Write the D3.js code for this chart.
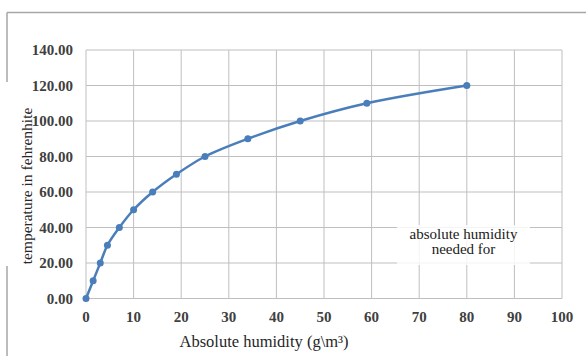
<!DOCTYPE html>
<html>
<head>
<meta charset="utf-8">
<script src="https://cdn.jsdelivr.net/npm/d3@7"></script>
<style>
  html, body { margin: 0; padding: 0; background: #fff; }
  svg { display: block; }
</style>
</head>
<body>
<div id="chart"></div>
<script>
// humidity (g/m3) needed for each temperature
const humidity = [0, 1.5, 3, 4.5, 7, 10, 14, 19, 25, 34, 45, 59, 80];
const temperature = [0, 10, 20, 30, 40, 50, 60, 70, 80, 90, 100, 110, 120];
const xTicks = [0, 10, 20, 30, 40, 50, 60, 70, 80, 90, 100];
const yTicks = [0, 20, 40, 60, 80, 100, 120, 140];
const noteLines = ['absolute humidity', 'needed for'];

const width = 586, height = 356;
const margin = { top: 50, right: 24, bottom: 57.5, left: 86 };
const serif = '"Liberation Serif", "DejaVu Serif", serif';

const svg = d3.select('#chart')
  .append('svg')
  .attr('width', width)
  .attr('height', height);

// outer frame (partially visible in the source)
const frame = svg.append('g')
  .attr('stroke', '#a6a6a6')
  .attr('stroke-width', 1.5)
  .attr('fill', 'none');
frame.append('line').attr('x1', 7).attr('x2', width).attr('y1', 12.5).attr('y2', 12.5);
frame.append('line').attr('x1', 7).attr('x2', 7).attr('y1', 12.5).attr('y2', 82);
frame.append('line').attr('x1', 7).attr('x2', 7).attr('y1', 266).attr('y2', height);

const x = d3.scaleLinear()
  .domain([0, 100])
  .range([margin.left, width - margin.right]);

const y = d3.scaleLinear()
  .domain([0, 140])
  .range([height - margin.bottom, margin.top]);

// grid
const grid = svg.append('g')
  .attr('stroke', '#bfbfbf')
  .attr('stroke-width', 1);

grid.selectAll('.vx')
  .data(xTicks)
  .enter()
  .append('line')
  .attr('x1', d => x(d))
  .attr('x2', d => x(d))
  .attr('y1', y(0))
  .attr('y2', y(140));

grid.selectAll('.hy')
  .data(yTicks)
  .enter()
  .append('line')
  .attr('x1', x(0))
  .attr('x2', x(100))
  .attr('y1', d => y(d))
  .attr('y2', d => y(d));

// tick labels
svg.append('g')
  .selectAll('text')
  .data(yTicks)
  .enter()
  .append('text')
  .attr('x', x(0) - 13)
  .attr('y', d => y(d))
  .attr('dy', '0.35em')
  .attr('text-anchor', 'end')
  .style('font-family', serif)
  .style('font-size', '15px')
  .style('font-weight', 'bold')
  .style('fill', '#404040')
  .text(d => d3.format('.2f')(d));

svg.append('g')
  .selectAll('text')
  .data(xTicks)
  .enter()
  .append('text')
  .attr('x', d => x(d))
  .attr('y', y(0) + 23)
  .attr('text-anchor', 'middle')
  .style('font-family', serif)
  .style('font-size', '15px')
  .style('font-weight', 'bold')
  .style('fill', '#404040')
  .text(d => d);

// axis titles
svg.append('text')
  .attr('x', 264)
  .attr('y', 347)
  .attr('text-anchor', 'middle')
  .style('font-family', serif)
  .style('font-size', '16.5px')
  .style('fill', '#262626')
  .text('Absolute humidity (g\\m³)');

svg.append('text')
  .attr('transform', 'translate(32,186) rotate(-90)')
  .attr('text-anchor', 'middle')
  .style('font-family', serif)
  .style('font-size', '15.5px')
  .style('fill', '#262626')
  .text('temperature in fehrenhite');

// note box
const note = svg.append('g');
note.append('rect')
  .attr('x', 397)
  .attr('y', 225)
  .attr('width', 133)
  .attr('height', 40)
  .attr('fill', '#fff')
  .attr('fill-opacity', 0.82);
note.selectAll('text')
  .data(noteLines)
  .enter()
  .append('text')
  .attr('x', 463.5)
  .attr('y', (d, i) => 239 + i * 15)
  .attr('text-anchor', 'middle')
  .style('font-family', serif)
  .style('font-size', '15px')
  .style('fill', '#1a1a1a')
  .text(d => d);

// series
const pts = humidity.map((h, i) => ({ h, t: temperature[i] }));

const line = d3.line()
  .x(d => x(d.h))
  .y(d => y(d.t))
  .curve(d3.curveCatmullRom.alpha(0.5));

svg.append('path')
  .datum(pts)
  .attr('d', line)
  .attr('fill', 'none')
  .attr('stroke', '#4a7ebb')
  .attr('stroke-width', 2.5);

svg.selectAll('circle')
  .data(pts)
  .enter()
  .append('circle')
  .attr('cx', d => x(d.h))
  .attr('cy', d => y(d.t))
  .attr('r', 3.5)
  .attr('fill', '#4a7ebb');
</script>
</body>
</html>
